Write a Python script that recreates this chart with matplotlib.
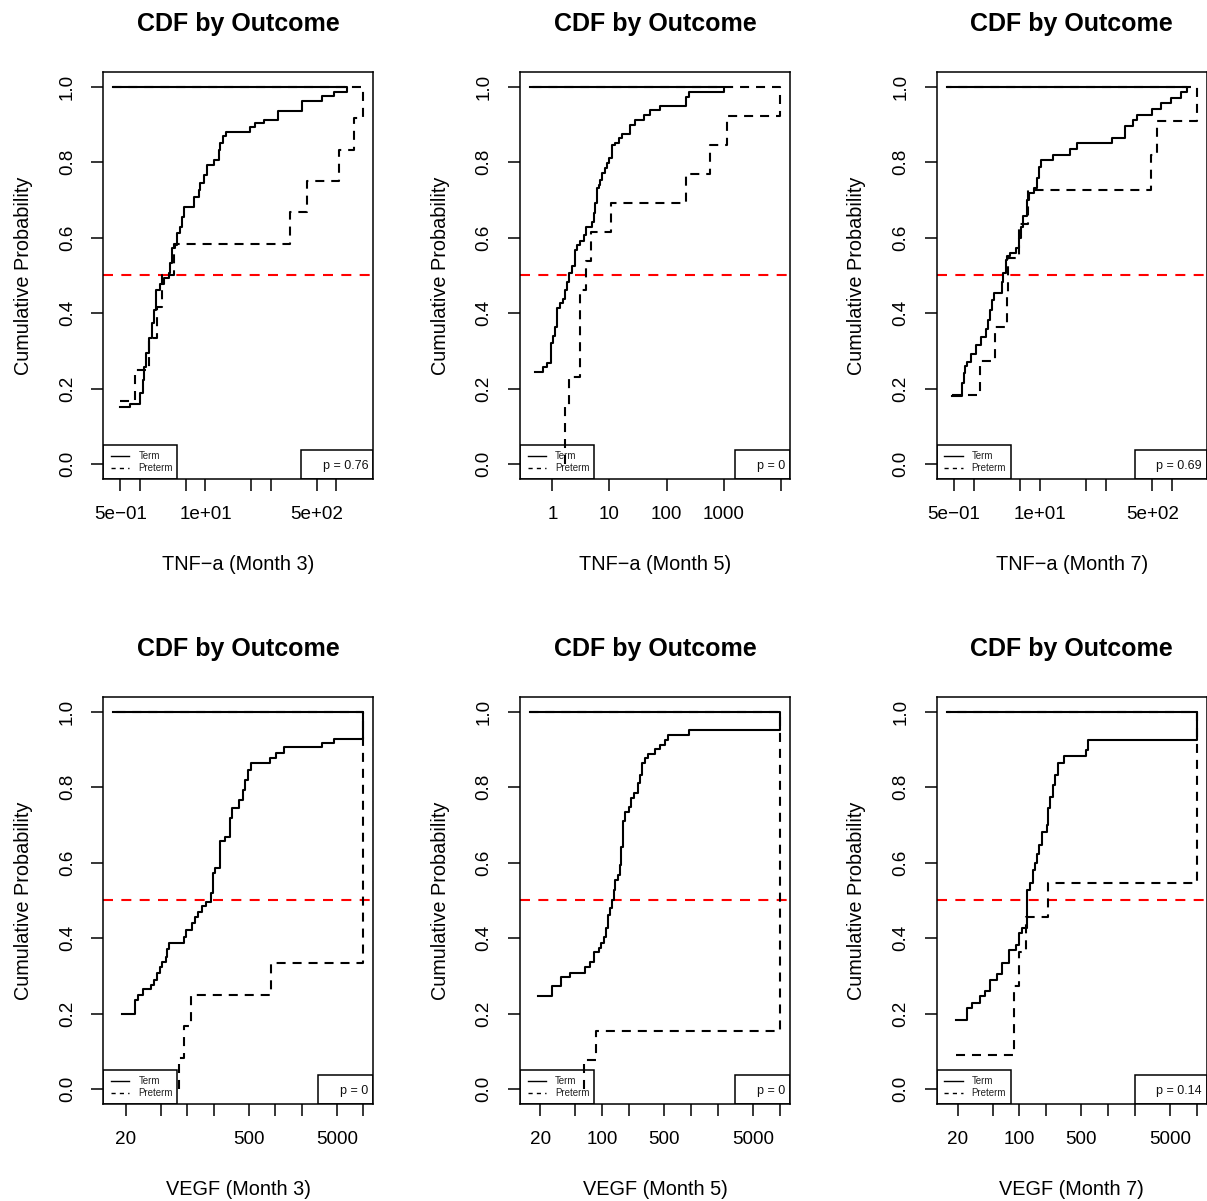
import numpy as np
import matplotlib
matplotlib.use("Agg")
import matplotlib.pyplot as plt
from matplotlib.patches import Rectangle
from matplotlib.ticker import FixedLocator, FixedFormatter, NullLocator

plt.rcParams['font.family'] = ['Liberation Sans', 'DejaVu Sans']
plt.rcParams['lines.scale_dashes'] = False

# ---------------- data (step points: x value, cumulative probability) ----------------
# TNF-a Month 3
tnf3_term_x = [0.50, 0.71, 0.99, 1.11, 1.16, 1.24, 1.36, 1.53, 1.66, 1.78, 2.05, 2.30, 2.74, 2.91,
               3.09, 3.47, 3.68, 4.04, 4.39, 4.66, 6.62, 7.89, 8.37, 9.42, 10.6, 13.4, 16.0, 16.9,
               18.6, 20.9, 48.7, 58.2, 78, 128, 301, 610, 918, 1470]
tnf3_term_y = [0.150, 0.158, 0.187, 0.223, 0.258, 0.293, 0.333, 0.373, 0.408, 0.461, 0.478, 0.492,
               0.505, 0.532, 0.572, 0.581, 0.611, 0.629, 0.655, 0.682, 0.708, 0.725, 0.744, 0.766,
               0.792, 0.805, 0.832, 0.850, 0.868, 0.881, 0.894, 0.903, 0.913, 0.936, 0.962, 0.975,
               0.986, 1.0]
tnf3_pre_x = [0.50, 0.85, 1.36, 1.82, 2.17, 3.27, 195, 351, 1096, 1860, 2590]
tnf3_pre_y = [0.167, 0.25, 0.333, 0.417, 0.5, 0.583, 0.667, 0.75, 0.833, 0.917, 1.0]
tnf3_start = 0.39

# TNF-a Month 5
tnf5_term_x = [0.497, 0.695, 0.797, 0.948, 1.04, 1.11, 1.22, 1.37, 1.52, 1.67, 1.83, 1.96, 2.19,
               2.44, 2.68, 3.07, 3.51, 3.86, 4.92, 5.26, 5.62, 6.02, 6.44, 6.89, 7.38, 8.44, 9.03,
               10.0, 11.3, 12.6, 14.5, 16.6, 23.2, 28.4, 39.7, 52.1, 78.1, 221, 252, 1012]
tnf5_term_y = [0.245, 0.258, 0.269, 0.322, 0.338, 0.364, 0.413, 0.426, 0.437, 0.461, 0.483, 0.506,
               0.525, 0.567, 0.580, 0.590, 0.607, 0.629, 0.641, 0.665, 0.691, 0.731, 0.740, 0.753,
               0.770, 0.784, 0.797, 0.810, 0.846, 0.852, 0.863, 0.875, 0.898, 0.912, 0.925, 0.938,
               0.950, 0.974, 0.987, 1.0]
tnf5_pre_x = [1.67, 1.67, 1.99, 3.07, 3.86, 4.79, 10.8, 221, 575, 1130, 9750]
tnf5_pre_y = [0.0, 0.154, 0.231, 0.462, 0.538, 0.615, 0.692, 0.769, 0.846, 0.923, 1.0]
tnf5_start = 0.405

# TNF-a Month 7
tnf7_term_x = [0.473, 0.670, 0.708, 0.733, 0.797, 0.894, 1.06, 1.27, 1.51, 1.63, 1.75, 1.86, 2.01,
               2.63, 2.79, 3.02, 3.21, 3.48, 4.28, 4.81, 5.22, 5.52, 6.43, 6.80, 8.10, 8.89, 9.64,
               10.5, 15.9, 28.3, 36.6, 124, 190, 254, 296, 487, 665, 942, 1368, 1687]
tnf7_term_y = [0.181, 0.214, 0.240, 0.260, 0.271, 0.291, 0.316, 0.337, 0.359, 0.382, 0.408, 0.435,
               0.453, 0.483, 0.506, 0.541, 0.550, 0.560, 0.572, 0.598, 0.629, 0.656, 0.700, 0.717,
               0.731, 0.757, 0.788, 0.806, 0.819, 0.834, 0.850, 0.863, 0.896, 0.912, 0.925, 0.940,
               0.956, 0.969, 0.985, 1.0]
tnf7_pre_x = [0.473, 1.24, 2.06, 3.13, 3.28, 4.81, 6.56, 470, 579, 2330]
tnf7_pre_y = [0.182, 0.273, 0.364, 0.455, 0.545, 0.636, 0.727, 0.818, 0.909, 1.0]
tnf7_start = 0.388

# VEGF Month 3
vegf3_term_x = [18.4, 25.9, 27.6, 31.4, 39.1, 41.8, 44.9, 49.8, 52.1, 56.8, 59.3, 61.8, 91.4, 98.1,
                114, 122, 132, 148, 165, 187, 197, 209, 234, 272, 304, 323, 384, 431, 457, 485,
                531, 878, 1026, 1274, 3378, 4660, 10000]
vegf3_term_y = [0.200, 0.236, 0.249, 0.264, 0.276, 0.289, 0.308, 0.324, 0.337, 0.351, 0.370, 0.386,
                0.404, 0.422, 0.439, 0.457, 0.470, 0.485, 0.496, 0.519, 0.572, 0.585, 0.656, 0.669,
                0.717, 0.744, 0.766, 0.793, 0.819, 0.846, 0.865, 0.876, 0.891, 0.906, 0.916, 0.928,
                1.0]
vegf3_pre_x = [80.4, 80.4, 91.4, 111, 893, 10000]
vegf3_pre_y = [0.0, 0.083, 0.167, 0.25, 0.333, 1.0]
vegf3_start = 14.5

# VEGF Month 5
vegf5_term_x = [19.1, 27.1, 34.2, 42.9, 64.4, 73.3, 81.3, 91.0, 97.5, 104, 110, 116, 123, 129, 134,
                140, 149, 160, 164, 170, 182, 198, 212, 226, 253, 268, 281, 300, 328, 396, 444,
                514, 551, 959, 10000]
vegf5_term_y = [0.246, 0.273, 0.296, 0.308, 0.324, 0.337, 0.364, 0.375, 0.386, 0.404, 0.426, 0.461,
                0.479, 0.501, 0.528, 0.554, 0.567, 0.594, 0.642, 0.709, 0.733, 0.748, 0.770, 0.784,
                0.810, 0.832, 0.863, 0.876, 0.889, 0.900, 0.911, 0.925, 0.938, 0.951, 1.0]
vegf5_pre_x = [61.6, 61.6, 85.7, 10000]
vegf5_pre_y = [0.0, 0.077, 0.154, 1.0]
vegf5_start = 15.4

# VEGF Month 7
vegf7_term_x = [19.1, 25.9, 28.8, 36.0, 40.6, 46.7, 55.6, 63.3, 76.6, 91.1, 99.3, 106, 121, 123,
                131, 141, 149, 157, 167, 178, 202, 208, 222, 237, 251, 274, 320, 562, 588, 10000]
vegf7_term_y = [0.183, 0.214, 0.227, 0.246, 0.260, 0.290, 0.306, 0.334, 0.368, 0.381, 0.414, 0.428,
                0.474, 0.528, 0.547, 0.580, 0.598, 0.624, 0.647, 0.682, 0.700, 0.744, 0.775, 0.806,
                0.832, 0.863, 0.883, 0.898, 0.926, 1.0]
vegf7_pre_x = [19.1, 87.1, 100, 120, 208, 10000]
vegf7_pre_y = [0.091, 0.273, 0.364, 0.455, 0.545, 1.0]
vegf7_start = 15.1

x_labels = ["TNF\u2212a (Month 3)", "TNF\u2212a (Month 5)", "TNF\u2212a (Month 7)",
            "VEGF (Month 3)", "VEGF (Month 5)", "VEGF (Month 7)"]
p_labels = ["p = 0.76", "p = 0", "p = 0.69", "p = 0", "p = 0", "p = 0.14"]

tnf_ticks_a = [0.5, 1, 5, 10, 50, 100, 500, 1000]
tnf_ticklabels_a = ["5e\u221201", "", "", "1e+01", "", "", "5e+02", ""]
tnf_ticks_b = [1, 10, 100, 1000, 10000]
tnf_ticklabels_b = ["1", "10", "100", "1000", ""]
vegf_ticks = [20, 50, 100, 200, 500, 1000, 2000, 5000, 10000]
vegf_ticklabels_a = ["20", "", "", "", "500", "", "", "5000", ""]
vegf_ticklabels_b = ["20", "", "100", "", "500", "", "", "5000", ""]
y_ticks = [0.0, 0.2, 0.4, 0.6, 0.8, 1.0]
y_ticklabels = ["0.0", "0.2", "0.4", "0.6", "0.8", "1.0"]

panels = [
    (tnf3_term_x, tnf3_term_y, tnf3_pre_x, tnf3_pre_y, tnf3_start, tnf_ticks_a, tnf_ticklabels_a),
    (tnf5_term_x, tnf5_term_y, tnf5_pre_x, tnf5_pre_y, tnf5_start, tnf_ticks_b, tnf_ticklabels_b),
    (tnf7_term_x, tnf7_term_y, tnf7_pre_x, tnf7_pre_y, tnf7_start, tnf_ticks_a, tnf_ticklabels_a),
    (vegf3_term_x, vegf3_term_y, vegf3_pre_x, vegf3_pre_y, vegf3_start, vegf_ticks, vegf_ticklabels_a),
    (vegf5_term_x, vegf5_term_y, vegf5_pre_x, vegf5_pre_y, vegf5_start, vegf_ticks, vegf_ticklabels_b),
    (vegf7_term_x, vegf7_term_y, vegf7_pre_x, vegf7_pre_y, vegf7_start, vegf_ticks, vegf_ticklabels_b),
]

# ---------------- layout ----------------
W, H = 1207, 1201
fig = plt.figure(figsize=(W / 100, H / 100), dpi=100)
PX = 0.72  # points per pixel
col_left = [103.3, 520.0, 936.7]
row_top = [71.6, 696.6]
aw, ah = 270.0, 407.5

LW = 1.5
BOX_LW = 1.1
DASH = (6.5, 5.0)

for i, (tx, ty, px_, py_, start, ticks, ticklabels) in enumerate(panels):
    r, c = divmod(i, 3)
    l, t = col_left[c], row_top[r]
    ax = fig.add_axes([l / W, 1 - (t + ah) / H, aw / W, ah / H])
    ax.set_xscale('log')
    xmax = max(max(tx), max(px_))
    lo, hi = np.log10(start), np.log10(xmax)
    rng = hi - lo
    ax.set_xlim(10 ** (lo - 0.04 * rng), 10 ** (hi + 0.04 * rng))
    ax.set_ylim(-0.04, 1.04)

    # legend box (bottom-left) and p-value box (bottom-right)
    lgw, lgh = 74 / aw, 34 / ah
    ax.add_patch(Rectangle((0, 0), lgw, lgh, transform=ax.transAxes, facecolor='white',
                           edgecolor='black', lw=BOX_LW, zorder=1))
    ax.plot([7.7 / aw, 26 / aw], [23.3 / ah, 23.3 / ah], transform=ax.transAxes,
            color='black', lw=1.0, zorder=2)
    ax.plot([7.7 / aw, 26 / aw], [11.5 / ah, 11.5 / ah], transform=ax.transAxes,
            color='black', lw=1.0, dashes=(3, 3), zorder=2)
    ax.text(35 / aw, 23.3 / ah, "Term", transform=ax.transAxes, fontsize=7.0,
            va='center', ha='left', color='#222222', zorder=2)
    ax.text(35 / aw, 11.5 / ah, "Preterm", transform=ax.transAxes, fontsize=7.0,
            va='center', ha='left', color='#222222', zorder=2)
    pw = 72 / aw if len(p_labels[i]) > 5 else 55 / aw
    ax.add_patch(Rectangle((1 - pw, 0), pw, 29 / ah, transform=ax.transAxes, facecolor='white',
                           edgecolor='black', lw=BOX_LW, zorder=1))
    ax.text(1 - 5 / aw, 13.5 / ah, p_labels[i], transform=ax.transAxes, fontsize=9.0,
            va='center', ha='right', color='#111111', zorder=2)

    # reference line at 0.5
    ax.axhline(0.5, color='red', lw=LW, dashes=(7.2, 6.0), zorder=2)

    # step curves, each closing back along y = 1 to the starting value
    ax.plot(list(px_) + [start], list(py_) + [1.0], drawstyle='steps-post', color='black',
            lw=LW, dashes=DASH, zorder=3)
    ax.plot(list(tx) + [start], list(ty) + [1.0], drawstyle='steps-post', color='black',
            lw=LW, zorder=4)

    # axes styling
    for s in ax.spines.values():
        s.set_linewidth(BOX_LW)
        s.set_zorder(5)
    ax.xaxis.set_major_locator(FixedLocator(ticks))
    ax.xaxis.set_major_formatter(FixedFormatter(ticklabels))
    ax.xaxis.set_minor_locator(NullLocator())
    ax.yaxis.set_major_locator(FixedLocator(y_ticks))
    ax.yaxis.set_major_formatter(FixedFormatter(y_ticklabels))
    ax.tick_params(axis='both', direction='out', length=12 * PX, width=BOX_LW,
                   labelsize=13.6, pad=11)
    ax.tick_params(axis='y', labelrotation=90)
    for lab in ax.get_yticklabels():
        lab.set_va('center')

    ax.annotate("CDF by Outcome", xy=(0.5, 1), xycoords='axes fraction',
                xytext=(0, 40.5 * PX), textcoords='offset points', ha='center',
                va='baseline', fontsize=18, fontweight='bold')
    ax.annotate(x_labels[i], xy=(0.5, 0), xycoords='axes fraction',
                xytext=(0, -90.9 * PX), textcoords='offset points', ha='center',
                va='baseline', fontsize=14.3)
    ax.annotate("Cumulative Probability", xy=(0, 0.5), xycoords='axes fraction',
                xytext=(-80 * PX, 0), textcoords='offset points', ha='center',
                va='center', rotation=90, fontsize=14.3)

fig.savefig("out.png", dpi=100, facecolor='white')
